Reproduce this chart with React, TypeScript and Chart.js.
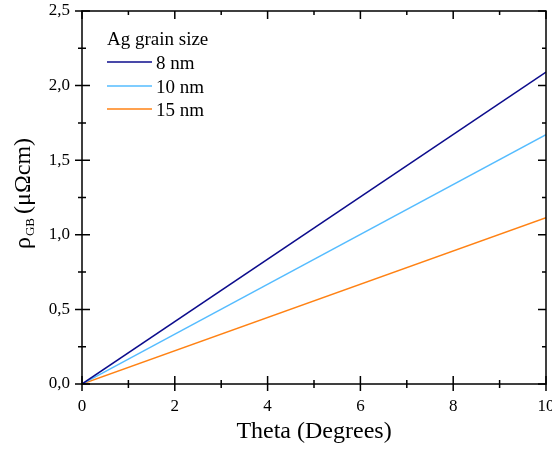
import { useEffect, useRef } from "react";
import { Chart, registerables } from "chart.js";

Chart.register(...registerables);

// ---- data ----
const theta = [0, 10];
const rho8 = [0, 2.09];
const rho10 = [0, 1.672];
const rho15 = [0, 1.115];
const seriesLabels = ["8 nm", "10 nm", "15 nm"];
const seriesColors = ["#0c0c8c", "#55bcff", "#ff8214"];
const legendTitle = "Ag grain size";
const xTitle = "Theta (Degrees)";
const yTitleMain = "\u03C1";
const yTitleSub = "GB";
const yTitleUnit = "(\u03BC\u03A9cm)";
const xMin = 0, xMax = 10, xStep = 2;
const yMin = 0, yMax = 2.5, yStep = 0.5;

const FONT = "'Liberation Serif', 'Times New Roman', serif";

const framePlugin = {
  id: "frameTicksLegend",
  afterDraw(chart: any) {
    const { ctx, chartArea: a, scales } = chart;
    const x = scales.x, y = scales.y;
    ctx.save();
    ctx.strokeStyle = "#000";
    ctx.lineWidth = 1.5;
    ctx.strokeRect(a.left, a.top, a.right - a.left, a.bottom - a.top);

    const xMaj = x.ticks.map((t: any) => t.value);
    const yMaj = y.ticks.map((t: any) => t.value);
    const mids = (arr: number[]) => arr.slice(1).map((v, i) => (v + arr[i]) / 2);
    const xMinr = mids(xMaj), yMinr = mids(yMaj);

    ctx.beginPath();
    const xt = (v: number, major: boolean) => {
      const p = x.getPixelForValue(v);
      const out = major ? 7 : 4, inn = major ? 8 : 4;
      ctx.moveTo(p, a.bottom + out); ctx.lineTo(p, a.bottom - inn);
      ctx.moveTo(p, a.top); ctx.lineTo(p, a.top + inn);
    };
    const yt = (v: number, major: boolean) => {
      const p = y.getPixelForValue(v);
      const out = major ? 7 : 4, inn = major ? 8 : 4;
      ctx.moveTo(a.left - out, p); ctx.lineTo(a.left + inn, p);
      ctx.moveTo(a.right, p); ctx.lineTo(a.right - inn, p);
    };
    xMaj.forEach((v: number) => xt(v, true));
    xMinr.forEach((v: number) => xt(v, false));
    yMaj.forEach((v: number) => yt(v, true));
    yMinr.forEach((v: number) => yt(v, false));
    ctx.stroke();

    // legend
    ctx.fillStyle = "#000";
    ctx.font = `19px ${FONT}`;
    ctx.textBaseline = "alphabetic";
    ctx.textAlign = "left";
    ctx.fillText(legendTitle, 107, 45);
    const rowY = [62, 86, 109];
    chart.data.datasets.forEach((ds: any, i: number) => {
      ctx.beginPath();
      ctx.strokeStyle = ds.borderColor;
      ctx.lineWidth = 1.5;
      ctx.moveTo(107, rowY[i]);
      ctx.lineTo(152, rowY[i]);
      ctx.stroke();
      ctx.fillStyle = "#000";
      ctx.fillText(ds.label, 156, rowY[i] + 6.5);
    });

    // x title
    ctx.font = `24px ${FONT}`;
    ctx.textAlign = "center";
    ctx.fillText(xTitle, (a.left + a.right) / 2, 438);

    // y title
    ctx.translate(30, 249);
    ctx.rotate(-Math.PI / 2);
    ctx.textAlign = "left";
    ctx.font = `24px ${FONT}`;
    ctx.fillText(yTitleMain, 0, 0);
    let w = ctx.measureText(yTitleMain).width + 1;
    ctx.font = `13px ${FONT}`;
    ctx.fillText(yTitleSub, w, 4);
    w += ctx.measureText(yTitleSub).width + 4;
    ctx.font = `24px ${FONT}`;
    ctx.fillText(yTitleUnit, w, 0);
    ctx.restore();
  },
};

export default function App() {
  const ref = useRef<HTMLCanvasElement>(null);
  useEffect(() => {
    if (!ref.current) return;
    const series = [rho8, rho10, rho15];
    const chart = new Chart(ref.current, {
      type: "line",
      data: {
        datasets: series.map((s, i) => ({
          label: seriesLabels[i],
          data: theta.map((t, j) => ({ x: t, y: s[j] })),
          borderColor: seriesColors[i],
          backgroundColor: seriesColors[i],
          borderWidth: 1.5,
          pointRadius: 0,
          tension: 0,
        })),
      },
      options: {
        responsive: false,
        animation: false,
        layout: { padding: { top: 11, right: 6, left: 0, bottom: 0 } },
        plugins: { legend: { display: false }, tooltip: { enabled: false } },
        scales: {
          x: {
            type: "linear",
            min: xMin,
            max: xMax,
            grid: { display: false, drawTicks: false },
            border: { display: false },
            ticks: {
              stepSize: xStep,
              color: "#000",
              font: { family: FONT, size: 17 },
              padding: 12,
              maxRotation: 0,
              callback: (v: any) => String(v),
            },
            afterFit: (s: any) => { s.height = 67; s.paddingRight = 6; s.paddingLeft = 0; },
          },
          y: {
            type: "linear",
            min: yMin,
            max: yMax,
            grid: { display: false, drawTicks: false },
            border: { display: false },
            ticks: {
              stepSize: yStep,
              color: "#000",
              font: { family: FONT, size: 17 },
              padding: 12,
              callback: (v: any) => Number(v).toFixed(1).replace(".", ","),
            },
            afterFit: (s: any) => { s.width = 82; s.paddingTop = 0; },
          },
        },
      },
      plugins: [framePlugin],
    });
    return () => chart.destroy();
  }, []);
  return (
    <div style={{ position: "fixed", left: 0, top: 0, width: 552, height: 451, background: "#fff" }}>
      <canvas ref={ref} width={552} height={451} style={{ width: 552, height: 451 }} />
    </div>
  );
}
